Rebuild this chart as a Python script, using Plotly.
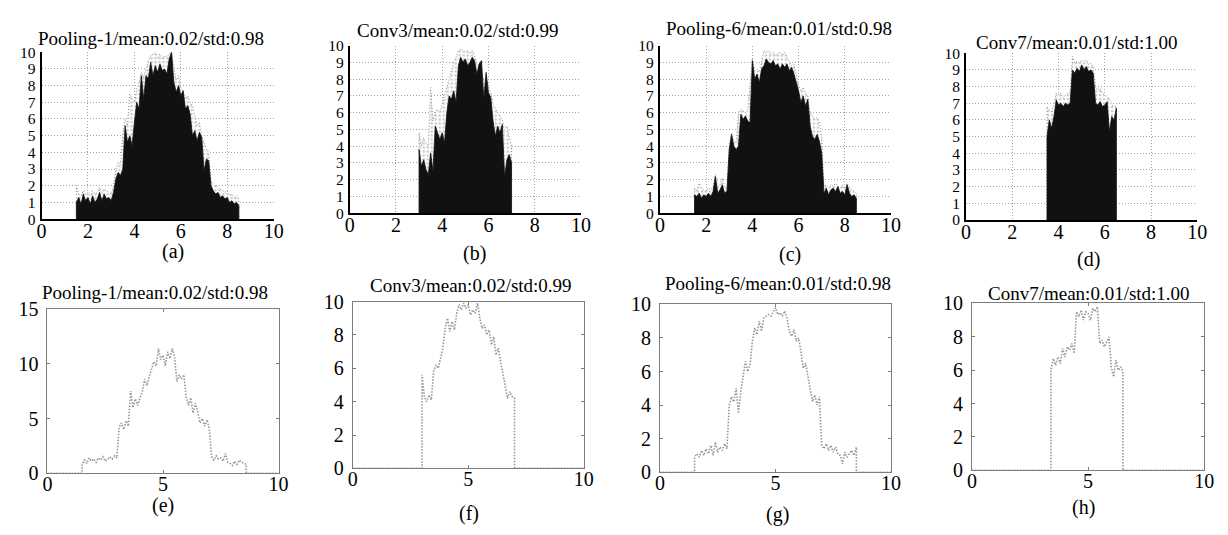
import numpy as np
import plotly.graph_objects as go

W, H = 1228, 535

# ---------------- data ----------------
# top row: histogram-like black fill + dotted grey upper envelope, grid step 0.1
A_START = 1.5
A_FILL = [1.0, 1.3, 0.9, 1.5, 1.1, 1.3, 0.9, 1.4, 1.0, 1.2, 1.6, 1.1, 1.5, 1.2, 1.3, 1.1, 1.6,
          2.4, 2.8, 2.6, 3.0, 5.6, 4.6, 5.0, 4.4, 5.8, 7.0, 6.6, 8.6, 7.2, 8.6, 8.4, 9.4, 8.6,
          9.2, 8.8, 9.3, 8.9, 9.0, 8.7, 9.6, 10.0, 8.2, 7.6, 8.0, 7.4, 7.7, 6.6, 6.8, 6.3, 5.0,
          5.3, 4.7, 5.2, 4.9, 2.9, 3.6, 3.5, 2.0, 1.7, 1.5, 1.6, 1.3, 1.4, 1.2, 1.3, 1.0, 1.1,
          0.9, 1.0, 0.8]
A_ENV = [2.0, 1.5, 1.4, 1.7, 1.5, 1.6, 1.4, 1.7, 1.5, 1.6, 1.9, 1.6, 1.8, 1.7, 1.6, 1.5, 2.0,
         3.0, 3.4, 3.3, 5.1, 6.0, 5.6, 7.5, 7.2, 7.0, 7.8, 8.2, 8.8, 8.5, 9.0, 9.5, 9.8, 9.9,
         10.0, 9.7, 9.9, 9.6, 9.8, 9.7, 9.9, 10.0, 9.0, 8.3, 8.6, 7.8, 7.6, 7.2, 7.4, 7.0, 6.8,
         6.2, 5.6, 5.8, 5.0, 4.6, 4.2, 4.0, 2.3, 2.1, 2.0, 1.9, 1.8, 1.7, 1.6, 1.7, 1.4, 1.5,
         1.3, 1.4, 1.2]

B_START = 3.0
B_FILL = [3.8, 2.8, 3.2, 2.6, 2.3, 3.6, 2.5, 5.2, 4.8, 4.4, 4.8, 4.2, 6.0, 7.0, 6.8, 7.3, 6.6,
          8.8, 9.3, 9.0, 9.2, 8.8, 9.0, 9.3, 9.1, 8.3, 8.9, 9.1, 6.8, 8.4, 7.2, 6.9, 5.5, 4.6,
          5.2, 4.8, 5.3, 2.2, 3.2, 3.5, 3.0]
B_ENV = [4.8, 4.0, 4.5, 4.2, 4.0, 7.5, 5.5, 6.0, 6.2, 6.0, 6.5, 7.0, 7.6, 8.0, 8.5, 9.0, 9.3,
         9.7, 9.8, 9.7, 9.6, 9.7, 9.5, 9.7, 9.4, 9.0, 8.6, 8.3, 8.0, 8.0, 7.6, 7.2, 6.5, 6.2,
         6.0, 5.8, 5.6, 5.0, 5.2, 4.6, 4.0]

C_START = 1.5
C_FILL = [1.1, 1.0, 1.2, 0.9, 1.1, 1.0, 1.2, 1.0, 1.3, 2.2, 1.2, 1.4, 1.7, 1.2, 1.3, 3.8, 4.7,
          4.0, 3.8, 4.0, 5.9, 5.6, 5.8, 5.5, 5.4, 9.1, 8.0, 8.3, 7.8, 8.6, 8.8, 9.2, 9.0, 8.9,
          9.1, 8.8, 8.9, 8.6, 8.9, 8.7, 8.9, 8.5, 8.7, 8.3, 7.8, 7.3, 6.6, 7.0, 6.4, 6.8, 5.2,
          4.6, 4.4, 4.7, 4.3, 3.6, 1.2, 1.5, 1.1, 1.4, 1.5, 1.3, 1.6, 1.2, 1.3, 1.1, 1.7, 1.2,
          1.0, 1.1, 0.9]
C_ENV = [1.5, 1.3, 1.8, 1.5, 1.4, 1.3, 1.5, 1.4, 1.6, 2.3, 1.6, 1.7, 2.1, 1.6, 1.5, 4.0, 4.8,
         4.3, 4.2, 6.0, 6.2, 6.1, 6.0, 6.2, 7.5, 9.2, 8.5, 8.6, 8.4, 9.0, 9.7, 9.6, 9.7, 9.5,
         9.6, 9.4, 9.5, 9.6, 9.4, 9.6, 9.3, 9.0, 8.8, 8.9, 8.2, 7.6, 7.3, 7.5, 7.2, 7.0, 6.0,
         5.8, 5.6, 5.7, 5.5, 4.5, 1.6, 1.7, 1.6, 1.7, 1.6, 1.8, 1.6, 1.5, 1.7, 1.4, 1.8, 1.5,
         1.4, 1.3, 1.2]

D_START = 3.5
D_FILL = [5.0, 6.0, 5.5, 6.2, 7.2, 6.9, 7.0, 6.8, 7.0, 6.9, 7.0, 9.0, 8.8, 9.1, 8.9, 9.3, 9.0,
          9.2, 8.9, 9.0, 8.8, 7.0, 6.9, 7.1, 6.8, 6.9, 7.1, 5.3, 6.2, 6.0, 6.7]
D_ENV = [6.8, 6.6, 6.5, 7.0, 7.6, 7.5, 7.6, 7.3, 7.5, 7.6, 7.7, 9.8, 9.4, 9.5, 9.4, 9.6, 9.5,
         9.6, 9.3, 9.4, 9.2, 8.0, 7.8, 7.9, 7.6, 7.5, 7.4, 7.3, 6.9, 6.8, 6.8]

# bottom row: dotted density curves, grid step 0.1 (zero outside the listed span)
E_START = 1.5
E_VALS = [0.8, 1.2, 0.9, 1.4, 1.1, 1.3, 1.0, 1.4, 1.2, 1.5, 1.1, 1.3, 1.5, 1.3, 1.6, 1.4, 4.2,
          4.6, 4.0, 4.8, 4.3, 7.5, 6.0, 6.8, 6.2, 6.9, 7.4, 8.6, 8.0, 8.8, 9.6, 10.2, 9.8, 11.4,
          10.4, 10.8, 9.8, 11.1, 10.5, 11.4, 10.6, 8.4, 9.0, 8.6, 9.0, 7.0, 6.2, 6.9, 5.5, 6.4,
          5.6, 4.6, 5.0, 4.3, 4.9, 4.1, 1.5, 1.2, 1.6, 1.3, 1.4, 1.1, 1.8, 1.0, 0.9, 0.7, 1.1,
          0.8, 1.2, 1.0, 0.9, 0.8]

F_START = 3.0
F_VALS = [5.6, 4.3, 4.0, 4.4, 4.1, 5.8, 6.2, 6.0, 6.6, 7.2, 8.4, 9.0, 8.2, 8.8, 8.3, 9.3, 9.8,
          9.5, 9.9, 9.6, 9.8, 9.2, 9.5, 9.3, 9.9, 9.0, 8.4, 8.6, 8.0, 8.3, 7.4, 7.9, 6.8, 7.2,
          6.4, 5.6, 4.8, 4.2, 4.6, 4.3, 4.2]

G_START = 1.5
G_VALS = [0.9, 1.1, 0.9, 1.3, 1.0, 1.4, 1.1, 1.6, 1.0, 1.8, 1.2, 1.5, 1.3, 1.7, 1.4, 4.0, 4.5,
          4.2, 5.0, 3.5, 4.8, 5.8, 6.6, 6.0, 6.4, 7.8, 8.6, 8.2, 9.0, 8.4, 9.2, 9.3, 9.4, 9.3,
          9.6, 9.8, 9.4, 9.5, 9.3, 9.6, 9.2, 8.4, 8.1, 8.5, 7.8, 8.0, 7.2, 6.2, 6.5, 5.8, 4.9,
          4.2, 4.6, 4.0, 4.5, 1.6, 1.4, 1.7, 1.3, 1.6, 1.2, 1.5, 1.1, 1.0, 0.5, 1.2, 0.9, 1.1,
          1.3, 1.0, 1.5]

H_START = 3.4
H_VALS = [6.0, 6.7, 6.3, 6.8, 6.4, 7.3, 6.8, 7.4, 7.2, 7.6, 7.0, 9.5, 9.2, 9.6, 9.0, 9.5, 9.4,
          9.0, 9.7, 9.5, 9.8, 7.6, 7.8, 7.4, 7.7, 8.0, 6.2, 5.6, 6.6, 6.0, 6.2, 5.9]

TOP_TITLES = ["Pooling-1/mean:0.02/std:0.98", "Conv3/mean:0.02/std:0.99",
              "Pooling-6/mean:0.01/std:0.98", "Conv7/mean:0.01/std:1.00"]
BOTTOM_TITLES = ["Pooling-1/mean:0.02/std:0.98", "Conv3/mean:0.02/std:0.99",
                 "Pooling-6/mean:0.01/std:0.98", "Conv7/mean:0.01/std:1.00"]
TOP_LABELS = ["(a)", "(b)", "(c)", "(d)"]
BOTTOM_LABELS = ["(e)", "(f)", "(g)", "(h)"]
TOP_X_TICKS = [0, 2, 4, 6, 8, 10]
TOP_Y_TICKS = [0, 1, 2, 3, 4, 5, 6, 7, 8, 9, 10]
BOTTOM_X_TICKS = [0, 5, 10]
E_Y_TICKS = [0, 5, 10, 15]
BOTTOM_Y_TICKS = [0, 2, 4, 6, 8, 10]
E_Y_MAX = 15
BOTTOM_Y_MAX = 10
X_MAX = 10


def grid(start, n):
    return [round(start + 0.1 * i, 2) for i in range(n)]


# ---------------- layout geometry (pixels) ----------------
# (left, right, top, bottom) of each plot area
TOP_RECTS = [(37, 272, 43, 217), (349, 583, 36, 211), (663, 897, 36, 211), (973, 1207, 44, 218)]
BOT_RECTS = [(43, 277, 311, 482), (352, 586, 303, 477), (663, 897, 306, 481), (979, 1214, 305, 479)]
TOP_TITLE_POS = [(148, 29), (459, 20), (784, 18), (1085, 33)]
BOT_TITLE_POS = [(152, 294), (472, 286), (783, 284), (1097, 295)]
TOP_LABEL_POS = [(170, 251), (475, 253), (795, 254), (1097, 259)]
BOT_LABEL_POS = [(160, 516), (470, 524), (782, 525), (1092, 518)]

SERIF = "Liberation Serif, Times New Roman, serif"
TICK_FONT = dict(family=SERIF, size=20, color="black")
TOP_Y_TICK_FONT = dict(family=SERIF, size=15.5, color="black")
TITLE_FONT = dict(family=SERIF, size=19, color="black")
LABEL_FONT = dict(family=SERIF, size=20, color="black")
GRID_COLOR = "rgb(165,165,165)"
FRAME_GREY = "rgb(125,125,125)"


def px_x(p):
    return p / W


def px_y(p):
    return 1 - p / H


fig = go.Figure()
layout = dict(width=W, height=H, margin=dict(l=0, r=0, t=0, b=0), autosize=False,
              paper_bgcolor="white", plot_bgcolor="white", showlegend=False)
annotations = []

top_data = [(A_START, A_FILL, A_ENV), (B_START, B_FILL, B_ENV),
            (C_START, C_FILL, C_ENV), (D_START, D_FILL, D_ENV)]
bot_data = [(E_START, E_VALS), (F_START, F_VALS), (G_START, G_VALS), (H_START, H_VALS)]

for i, (start, fill_vals, env_vals) in enumerate(top_data):
    assert len(fill_vals) == len(env_vals)
    k = i + 1
    xs = grid(start, len(fill_vals))
    ax = "x" if k == 1 else f"x{k}"
    ay = "y" if k == 1 else f"y{k}"
    xe = [xs[0]] + xs + [xs[-1]]
    fig.add_trace(go.Scatter(
        x=xe, y=[0] + env_vals + [0], xaxis=ax, yaxis=ay, mode="lines",
        line=dict(color="rgb(140,140,140)", width=1, dash="1px,2px"),
        fill="tozeroy", fillcolor="white",
        fillpattern=dict(shape=".", fgcolor="rgb(150,150,150)", bgcolor="white", size=4, solidity=0.35),
        hoverinfo="skip"))
    fig.add_trace(go.Scatter(
        x=xe, y=[0] + fill_vals + [0], xaxis=ax, yaxis=ay, mode="lines",
        line=dict(color="#111111", width=0.8), fill="tozeroy", fillcolor="#111111",
        hoverinfo="skip"))
    l, r, t, b = TOP_RECTS[i]
    xname = "xaxis" if k == 1 else f"xaxis{k}"
    yname = "yaxis" if k == 1 else f"yaxis{k}"
    layout[xname] = dict(domain=[px_x(l), px_x(r)], anchor=ay, range=[0, X_MAX],
                         tickvals=TOP_X_TICKS, ticks="", showgrid=True, griddash="1px,2px",
                         gridcolor=GRID_COLOR, gridwidth=1, zeroline=False,
                         showline=True, linecolor="black", linewidth=2, tickfont=TICK_FONT,
                         ticklabelstandoff=-7, fixedrange=True)
    layout[yname] = dict(domain=[px_y(b), px_y(t)], anchor=ax, range=[0, 10],
                         tickvals=TOP_Y_TICKS, ticks="", showgrid=True, griddash="1px,2px",
                         gridcolor=GRID_COLOR, gridwidth=1, zeroline=False,
                         showline=True, linecolor="black", linewidth=2, tickfont=TOP_Y_TICK_FONT,
                         ticklabelstandoff=1, fixedrange=True)
    tx, ty = TOP_TITLE_POS[i]
    annotations.append(dict(text=TOP_TITLES[i], x=px_x(tx), y=px_y(ty), xref="paper", yref="paper",
                            showarrow=False, xanchor="center", yanchor="middle", font=TITLE_FONT))
    lx, ly = TOP_LABEL_POS[i]
    annotations.append(dict(text=TOP_LABELS[i], x=px_x(lx), y=px_y(ly), xref="paper", yref="paper",
                            showarrow=False, xanchor="center", yanchor="middle", font=LABEL_FONT))

for i, (start, vals) in enumerate(bot_data):
    k = i + 5
    xs = grid(start, len(vals))
    ax = f"x{k}"
    ay = f"y{k}"
    xl = [0] + [xs[0]] + xs + [xs[-1]] + [X_MAX]
    yl = [0, 0] + vals + [0, 0]
    fig.add_trace(go.Scatter(
        x=xl, y=yl, xaxis=ax, yaxis=ay, mode="lines",
        line=dict(color="rgb(150,150,150)", width=1.6, dash="1.5px,1.5px"), hoverinfo="skip"))
    l, r, t, b = BOT_RECTS[i]
    ymax = E_Y_MAX if i == 0 else BOTTOM_Y_MAX
    yt = E_Y_TICKS if i == 0 else BOTTOM_Y_TICKS
    layout[f"xaxis{k}"] = dict(domain=[px_x(l), px_x(r)], anchor=ay, range=[0, X_MAX],
                               tickvals=BOTTOM_X_TICKS, ticks="inside", ticklen=3,
                               tickcolor=FRAME_GREY, showgrid=False, zeroline=False,
                               showline=True, mirror="ticks", linecolor=FRAME_GREY,
                               linewidth=1, tickfont=TICK_FONT, ticklabelstandoff=-7,
                               fixedrange=True)
    layout[f"yaxis{k}"] = dict(domain=[px_y(b), px_y(t)], anchor=ax, range=[0, ymax],
                               tickvals=yt, ticks="inside", ticklen=3,
                               tickcolor=FRAME_GREY, showgrid=False, zeroline=False,
                               showline=True, mirror="ticks", linecolor=FRAME_GREY,
                               linewidth=1, tickfont=TICK_FONT, ticklabelstandoff=4,
                               fixedrange=True)
    tx, ty = BOT_TITLE_POS[i]
    annotations.append(dict(text=BOTTOM_TITLES[i], x=px_x(tx), y=px_y(ty), xref="paper",
                            yref="paper", showarrow=False, xanchor="center", yanchor="middle",
                            font=TITLE_FONT))
    lx, ly = BOT_LABEL_POS[i]
    annotations.append(dict(text=BOTTOM_LABELS[i], x=px_x(lx), y=px_y(ly), xref="paper",
                            yref="paper", showarrow=False, xanchor="center", yanchor="middle",
                            font=LABEL_FONT))

layout["annotations"] = annotations
fig.update_layout(**layout)
fig.write_html("out.html", config={"displayModeBar": False},
               post_script="document.body.style.margin='0';document.body.style.padding='0';")
